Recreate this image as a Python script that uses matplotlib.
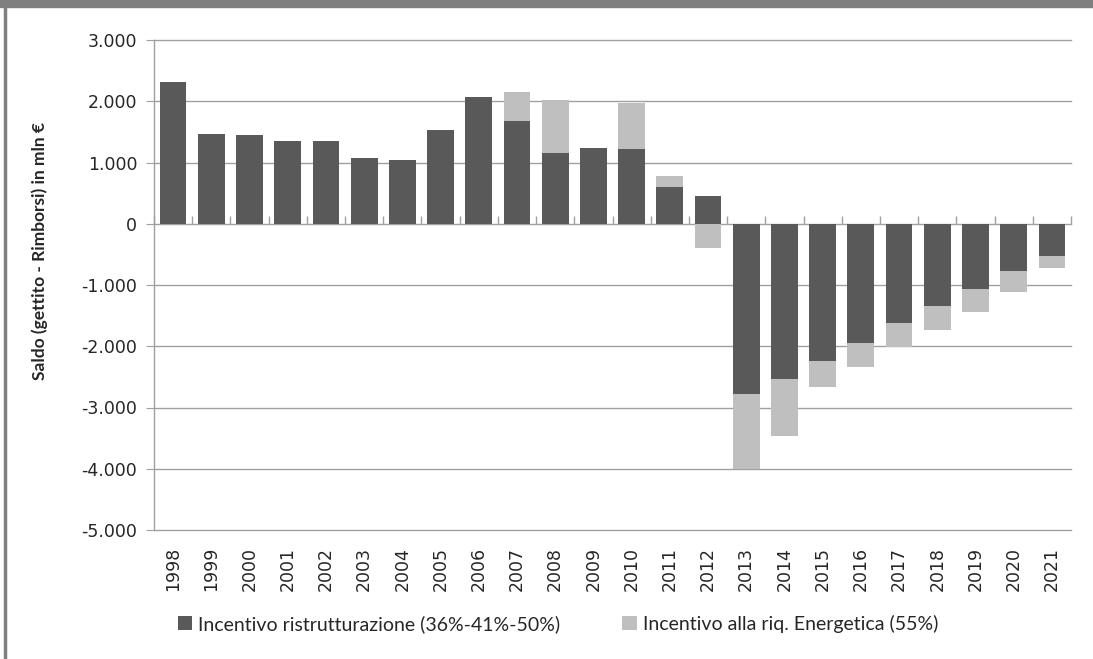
import matplotlib
matplotlib.use("Agg")
import matplotlib.pyplot as plt
from matplotlib.patches import Rectangle
from matplotlib.lines import Line2D
import numpy as np

# ── DATA (mln €) ─────────────────────────────────────────────
years = [1998, 1999, 2000, 2001, 2002, 2003, 2004, 2005, 2006, 2007, 2008, 2009,
         2010, 2011, 2012, 2013, 2014, 2015, 2016, 2017, 2018, 2019, 2020, 2021]
ristrutturazione = [2310, 1465, 1450, 1345, 1345, 1070, 1045, 1525, 2065, 1680, 1155, 1230,
                    1225, 605, 455, -2785, -2540, -2240, -1940, -1625, -1350, -1065, -775, -525]
riq_energetica = [0, 0, 0, 0, 0, 0, 0, 0, 0, 475, 870, 0,
                  745, 180, -400, -1215, -920, -420, -405, -380, -380, -370, -345, -190]
yticks = [3000, 2000, 1000, 0, -1000, -2000, -3000, -4000, -5000]

label_dark = "Incentivo ristrutturazione (36%-41%-50%)"
label_light = "Incentivo alla riq. Energetica (55%)"
ylabel = "Saldo (gettito - Rimborsi) in mln €"

DARK = "#595959"
LIGHT = "#bfbfbf"
GRID = "#a0a0a0"
TXT = "#262626"

W, H = 1093, 659
fig = plt.figure(figsize=(W / 100, H / 100), dpi=100)

# frame decorations: top band + left border
fig.patches.append(Rectangle((0, 1 - 7 / H), 1, 7 / H, transform=fig.transFigure,
                             color="#7f7f7f", zorder=0))
fig.add_artist(Line2D([5 / W, 5 / W], [0, 1 - 7 / H], transform=fig.transFigure,
                      color="#7f7f7f", linewidth=2.5))

ax = fig.add_axes([154 / W, 1 - 530 / H, (1071 - 154) / W, (530 - 40) / H])

x = np.arange(len(years))
dark = np.array(ristrutturazione)
light = np.array(riq_energetica)
# Excel-style stacking: same-sign values stack, opposite signs start from 0
bottom_light = np.where(np.sign(light) == np.sign(dark), dark, 0)

ax.bar(x, dark, width=0.7, color=DARK, zorder=3, label=label_dark)
ax.bar(x, light, width=0.7, bottom=bottom_light, color=LIGHT, zorder=3, label=label_light)

ax.set_xlim(-0.5, len(years) - 0.5)
ax.set_ylim(-5000, 3000)
ax.set_yticks(yticks)
ax.set_yticklabels([f"{v:,}".replace(",", ".") for v in yticks])
ax.yaxis.grid(True, color=GRID, linewidth=1.0, zorder=0)
ax.set_axisbelow(True)
for gl in ax.get_ygridlines():
    gl.set_clip_on(False)

for s in ["top", "right", "bottom"]:
    ax.spines[s].set_visible(False)
ax.spines["left"].set_color(GRID)
ax.spines["left"].set_linewidth(1.0)

ax.tick_params(axis="y", direction="out", length=6, color=GRID, labelsize=12.5,
               labelcolor=TXT, pad=6)
ax.set_xticks(x)
ax.set_xticklabels([str(y) for y in years], rotation=90)
ax.tick_params(axis="x", length=0, labelsize=12.5, labelcolor=TXT, pad=12)
for lbl in ax.get_yticklabels() + ax.get_xticklabels():
    lbl.set_family("DejaVu Sans")

# category axis crossing at zero, tick marks between categories
zero_frac = (0 - ax.get_ylim()[0]) / (ax.get_ylim()[1] - ax.get_ylim()[0])
sec = ax.secondary_xaxis(zero_frac)
sec.set_xticks(np.arange(len(years) + 1) - 0.5)
sec.set_xticklabels([])
sec.tick_params(direction="out", length=6, color=GRID, width=1.0)
sec.spines["bottom"].set_color(GRID)
sec.spines["bottom"].set_linewidth(1.0)
sec.spines["top"].set_visible(False)

fig.text(40 / W, 1 - 251 / H, ylabel, rotation=90, ha="center", va="center",
         fontsize=12.5, fontweight="bold", family=["Lato", "DejaVu Sans"], color=TXT)

handles, labels = ax.get_legend_handles_labels()
fig.legend(handles, labels, loc="center left", bbox_to_anchor=(160 / W, 1 - 624 / H),
           ncol=2, frameon=False, prop={"family": ["Lato", "DejaVu Sans"], "size": 14},
           handlelength=0.75, handleheight=0.75, handletextpad=0.3, columnspacing=3.2,
           labelcolor=TXT)

fig.savefig("out.png", dpi=100)
